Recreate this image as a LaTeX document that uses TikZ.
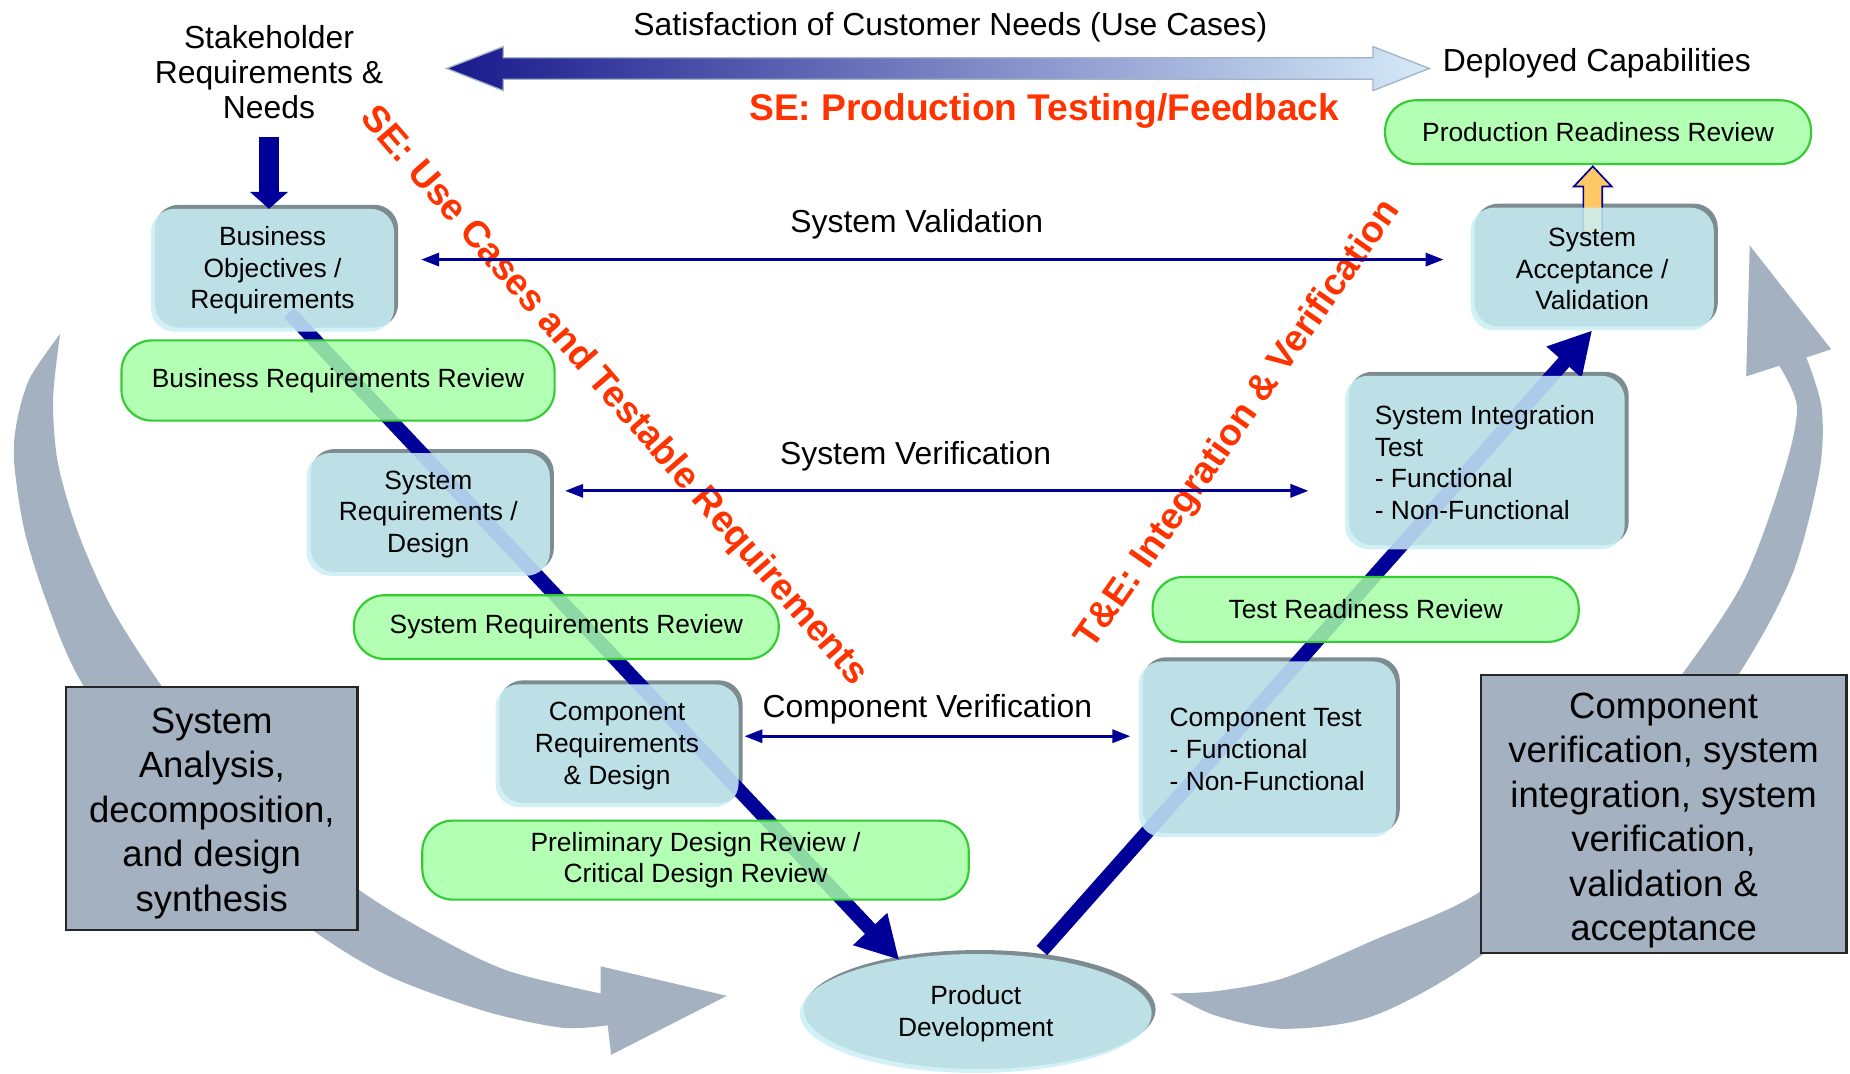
\documentclass[tikz,border=0pt]{standalone}
\usepackage{fontspec}
\setmainfont{Liberation Sans}
\usetikzlibrary{arrows.meta,shapes.geometric}
\pgfdeclarelayer{bevel}
\pgfdeclarelayer{vline}
\pgfsetlayers{bevel,vline,main}
\definecolor{navy}{RGB}{0,0,153}
\definecolor{boxfill}{RGB}{201,239,246}
\definecolor{bevelgray}{RGB}{125,140,145}
\definecolor{pillfill}{RGB}{166,255,166}
\definecolor{pillline}{RGB}{51,204,51}
\definecolor{slate}{RGB}{163,177,193}
\definecolor{redorange}{RGB}{255,51,0}
\definecolor{upfill}{RGB}{255,200,100}
\definecolor{arrowdark}{RGB}{25,25,140}
\definecolor{arrowlight}{RGB}{214,234,248}
\definecolor{edgeblue}{RGB}{160,180,200}
\newcommand{\lblfont}{\fontsize{19.2}{21}\selectfont}
\newcommand{\boxfont}{\fontsize{15.9}{19.2}\selectfont}
\newcommand{\slatefont}{\fontsize{22}{26.8}\selectfont}
\newcommand{\redfont}{\fontsize{22.4}{26}\selectfont\bfseries}
\begin{document}
\begin{tikzpicture}[x=0.025cm, y=-0.025cm,
  box/.style={rounded corners=0.5cm, fill=boxfill, fill opacity=0.85, text opacity=1,
    minimum width=5.15cm, minimum height=2.6cm, inner sep=0pt, outer sep=0pt,
    align=center, font=\boxfont},
  oval/.style={ellipse, fill=boxfill, fill opacity=0.85, text opacity=1,
    inner sep=0pt, outer sep=0pt, align=center, font=\boxfont},
  bevel/.style={fill=bevelgray, rounded corners=0.5cm},
  pill/.style={rounded corners=0.65cm, draw=pillline, line width=1.3pt, fill=pillfill,
    fill opacity=0.85, text opacity=1, inner sep=0pt, align=center, font=\boxfont},
  slatebox/.style={draw=black!85, line width=1.3pt, fill=slate, inner sep=0pt,
    align=center, font=\slatefont},
  redtext/.style={text=redorange, font=\redfont},
  lbl/.style={font=\lblfont, align=center},
  vline/.style={navy, line width=0.3cm, -{Triangle[length=0.9cm,width=0.93cm]}},
  harrow/.style={navy, line width=1.6pt,
    {Triangle[length=0.38cm,width=0.28cm]}-{Triangle[length=0.38cm,width=0.28cm]}}]
\useasboundingbox (0,0) rectangle (1568,910);

% big curved arrows
\fill[slate] plot[smooth] coordinates {(51,283) (25,321) (14,359) (12,392) (21,451) (41,514) (70,580) (150,700) (263,787) (329,827) (411,857) (476,871) (515,869)}
  -- (518,894) -- (616,844) -- (509,819)
  -- plot[smooth] coordinates {(509,842) (431,823) (370,794) (304,754) (210,680) (136,580) (94,514) (66,451) (49,392) (45,338) (51,283)} -- cycle;
\fill[slate] plot[smooth] coordinates {(992,842) (1031,861) (1088,872) (1164,861) (1254,811) (1380,705) (1474,571) (1519,487) (1542,400) (1544,346) (1531,303)}
  -- (1552,296) -- (1483,208) -- (1480,319)
  -- plot[smooth] coordinates {(1508,310) (1523,345) (1512,400) (1478,492) (1426,571) (1345,675) (1254,756) (1164,797) (1088,829) (1031,840) (992,842)} -- cycle;

% top shaded arrow
\draw[draw=edgeblue, line width=0.8pt, left color=arrowdark, right color=arrowlight]
  (378.5,58) -- (426.6,39.5) -- (426.6,49) -- (1163.7,49) -- (1163.7,39.5) -- (1211.4,58)
  -- (1163.7,76.8) -- (1163.7,67.2) -- (426.6,67.2) -- (426.6,76.8) -- cycle;

% labels
\node[lbl] (sk) at (228,61) {Stakeholder\\Requirements \&\\Needs};
\node[lbl] (scn) at (805.5,23.5) {Satisfaction of Customer Needs (Use Cases)};
\node[lbl] (dc) at (1353.5,54) {Deployed Capabilities};
\node[redtext] (ptf) at (885,94) {SE: Production Testing/Feedback};
\node[redtext, rotate=-49] (uct) at (520,336) {SE: Use Cases and Testable Requirements};
\node[redtext, rotate=55] (tiv) at (1050,360) {T\&E: Integration \& Verification};
\node[lbl] (sval) at (777,190) {System Validation};
\node[lbl] (sver) at (776,387) {System Verification};
\node[lbl] (cver) at (786,601) {Component Verification};

% V boxes
\node[box] (bo) at (231,229) {Business\\Objectives /\\Requirements};
\node[box] (sr) at (363,436) {System\\Requirements /\\Design};
\node[box] (cr) at (523,632) {Component\\Requirements\\\& Design};
\node[box] (sa) at (1349.5,228) {System\\Acceptance /\\Validation};
\node[box, minimum width=5.925cm, minimum height=3.675cm, align=left] (sit) at (1258.5,392) {System Integration\\Test\\- Functional\\- Non-Functional};
\node[box, minimum width=5.45cm, minimum height=3.725cm, align=left] (ct) at (1074,635) {Component Test\\- Functional\\- Non-Functional};
\node[oval, minimum width=7.45cm, minimum height=2.52cm] (pd) at (827,859) {Product\\Development};

% reviews
\node[pill, minimum width=9.175cm, minimum height=1.7cm] (brr) at (286.5,322.5) {Business Requirements Review};
\node[pill, minimum width=9cm, minimum height=1.35cm] (srr) at (480,531.5) {System Requirements Review};
\node[pill, minimum width=11.575cm, minimum height=1.675cm] (pdr) at (589.5,729) {Preliminary Design Review /\\Critical Design Review};
\node[pill, minimum width=9.025cm, minimum height=1.375cm] (trr) at (1157.5,516.5) {Test Readiness Review};
\node[pill, minimum width=9.025cm, minimum height=1.35cm] (prr) at (1354.5,112) {Production Readiness Review};

% side boxes
\node[slatebox, minimum width=6.175cm, minimum height=5.15cm] (sad) at (179.5,685) {\rule{0pt}{21.6pt}System\\Analysis,\\decomposition,\\and design\\synthesis};
\node[slatebox, minimum width=7.75cm, minimum height=5.9cm] (cva) at (1410,690) {\rule{0pt}{23pt}Component\\verification, system\\integration, system\\verification,\\validation \&\\acceptance};

% verification arrows
\draw[harrow, shorten <=0.575cm, shorten >=0.575cm] (bo.east |- 0,220) -- (sa.west |- 0,220);
\draw[harrow, shorten <=0.325cm, shorten >=0.775cm] (sr.east |- 0,416) -- (sit.west |- 0,416);
\draw[harrow, shorten <=0.125cm, shorten >=0.175cm] (cr.east |- 0,624) -- (ct.west |- 0,624);

\coordinate (skfoot) at (228,116);
\draw[navy, line width=0.41cm, -{Triangle[length=0.36cm,width=0.79cm]}] (skfoot) -- (skfoot |- bo.north);

\begin{pgfonlayer}{bevel}
\foreach \bx in {bo,sr,cr,sa,sit,ct}
  \fill[bevel] ([shift={(2.4pt,2.4pt)}]\bx.south west) rectangle ([shift={(2.4pt,2.4pt)}]\bx.north east);
\fill[bevelgray] ([shift={(2.4pt,2.4pt)}]pd.center) ellipse [x radius=3.725cm, y radius=1.26cm];
\end{pgfonlayer}

\begin{pgfonlayer}{vline}
\coordinate (vtop) at (245,265);
\draw[vline] (vtop) -- (pd.145);
\draw[vline, shorten <=0.2cm] (pd.43) -- (sa.south);
\filldraw[fill=upfill, draw=navy, line width=1pt] (1342,200) -- (1342,158) -- (1334,158) -- (1350,141)
  -- (1366,158) -- (1358,158) -- (1358,200) -- cycle;
\end{pgfonlayer}
\end{tikzpicture}
\end{document}
